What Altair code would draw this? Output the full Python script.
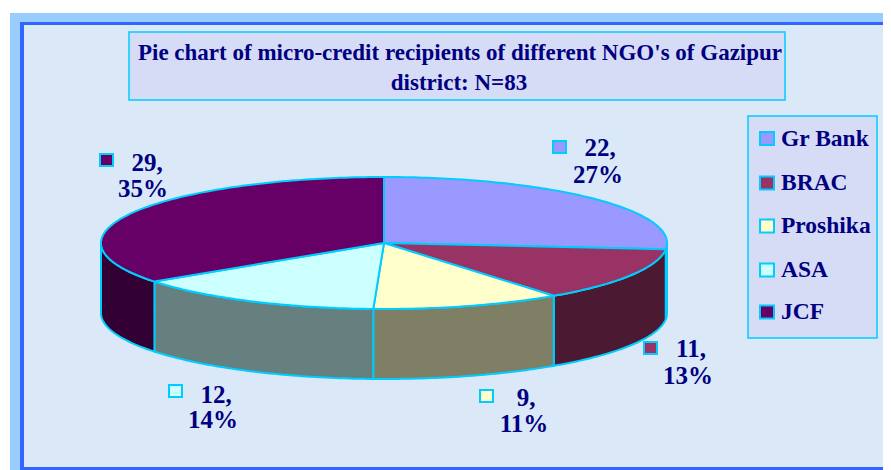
import math
import altair as alt

# ---- chart values ----
names = ["Gr Bank", "BRAC", "Proshika", "ASA", "JCF"]
counts = [22, 11, 9, 12, 29]
percents = ["27%", "13%", "11%", "14%", "35%"]
top_colors = ["#9999FF", "#993366", "#FFFFCC", "#CCFFFF", "#660066"]
side_colors = ["#4C4C7F", "#4C1933", "#7F7F66", "#667F7F", "#330033"]
title_lines = ["Pie chart of micro-credit recipients of different NGO's of Gazipur",
               "district: N=83"]

# ---- layout (page pixels) ----
PAGE_W, PAGE_H, M = 883, 470, 8
CX, CY, RX, RY, DEPTH = 384, 243, 283, 66, 70
STROKE = "#00CCFF"
NAVY = "#000080"
FONT = "Liberation Serif"
swatch_pos = [(553, 141), (644, 342), (480, 390), (169, 385), (100, 154)]
count_pos = [(600, 148), (691, 349), (526, 398), (216, 395), (147, 163)]
pct_pos = [(598, 175), (688, 376), (524, 424), (213, 420), (143, 189)]
legend_rows = [138.5, 183, 226, 270, 312]


def pt(deg, dy=0.0):
    a = math.radians(deg)
    return [CX + RX * math.sin(a), CY - RY * math.cos(a) + dy]


def arc(a0, a1, dy=0.0):
    n = max(2, int(abs(a1 - a0)) + 2)
    return [pt(a0 + (a1 - a0) * i / (n - 1), dy) for i in range(n)]


def feature(ring, fill):
    ring = ring + [ring[0]]
    return {"type": "Feature", "properties": {"fill": fill},
            "geometry": {"type": "Polygon", "coordinates": [ring]}}


total = sum(counts)
edges = [0.0]
for c in counts:
    edges.append(edges[-1] + 360.0 * c / total)

tops, sides = [], []
for i in range(len(counts)):
    a0, a1 = edges[i], edges[i + 1]
    tops.append(feature([[CX, CY]] + arc(a0, a1), top_colors[i]))
    lo, hi = max(a0, 90.0), min(a1, 270.0)
    if lo < hi:
        sides.append(feature(arc(lo, hi) + arc(hi, lo, DEPTH), side_colors[i]))


def shape(features):
    return (alt.Chart(alt.Data(values=features))
            .mark_geoshape(stroke=STROKE, strokeWidth=2)
            .encode(fill=alt.Fill("properties.fill:N", scale=None))
            .project(type="identity", scale=1, translate=[-M, -M]))


def boxes(rows, **kw):
    rows = [dict(x=r[0] - M, x2=r[1] - M, y=r[2] - M, y2=r[3] - M, f=r[4]) for r in rows]
    return (alt.Chart(alt.Data(values=rows)).mark_rect(**kw).encode(
        x=alt.X("x:Q", scale=None, axis=None), x2="x2:Q",
        y=alt.Y("y:Q", scale=None, axis=None), y2="y2:Q",
        fill=alt.Fill("f:N", scale=None)))


def texts(rows, size, align="center"):
    rows = [dict(x=r[0] - M, y=r[1] - M, t=r[2]) for r in rows]
    return (alt.Chart(alt.Data(values=rows))
            .mark_text(font=FONT, fontWeight="bold", fontSize=size, color=NAVY,
                       align=align, baseline="middle")
            .encode(x=alt.X("x:Q", scale=None, axis=None),
                    y=alt.Y("y:Q", scale=None, axis=None), text="t:N"))


frame = boxes([(10, PAGE_W, 13, PAGE_H, "#99CCFF")])
inner = boxes([(20, PAGE_W, 22, PAGE_H, "#3366FF")])
paper = boxes([(24, PAGE_W, 25, 467, "#DAE8F8")])
panels = boxes([(129, 785, 32, 100, "#D6DCF6"), (748, 877, 116, 338, "#D6DCF6")],
               stroke=STROKE, strokeWidth=1.5)

swatches = [(x, x + 13, y, y + 12, top_colors[i]) for i, (x, y) in enumerate(swatch_pos)]
swatches += [(760, 774, r - 6.5, r + 6.5, top_colors[i]) for i, r in enumerate(legend_rows)]
swatch_layer = boxes(swatches, stroke=STROKE, strokeWidth=2)

title_layer = texts([(460, 53, title_lines[0]), (459, 83, title_lines[1])], 23)
count_layer = texts([(x, y, f"{counts[i]},") for i, (x, y) in enumerate(count_pos)], 25)
pct_layer = texts([(x, y, percents[i]) for i, (x, y) in enumerate(pct_pos)], 25)
legend_layer = texts([(781, r, names[i]) for i, r in enumerate(legend_rows)], 23.5, align="left")

chart = alt.layer(
    frame, inner, paper, panels,
    shape(sides), shape(tops),
    swatch_layer, title_layer, count_layer, pct_layer, legend_layer,
).properties(
    width=PAGE_W - M, height=PAGE_H - M, padding=0, autosize=alt.AutoSizeParams(type="none"),
).configure_view(stroke=None)

chart.save("out.html", embed_options={"renderer": "svg", "actions": False})
